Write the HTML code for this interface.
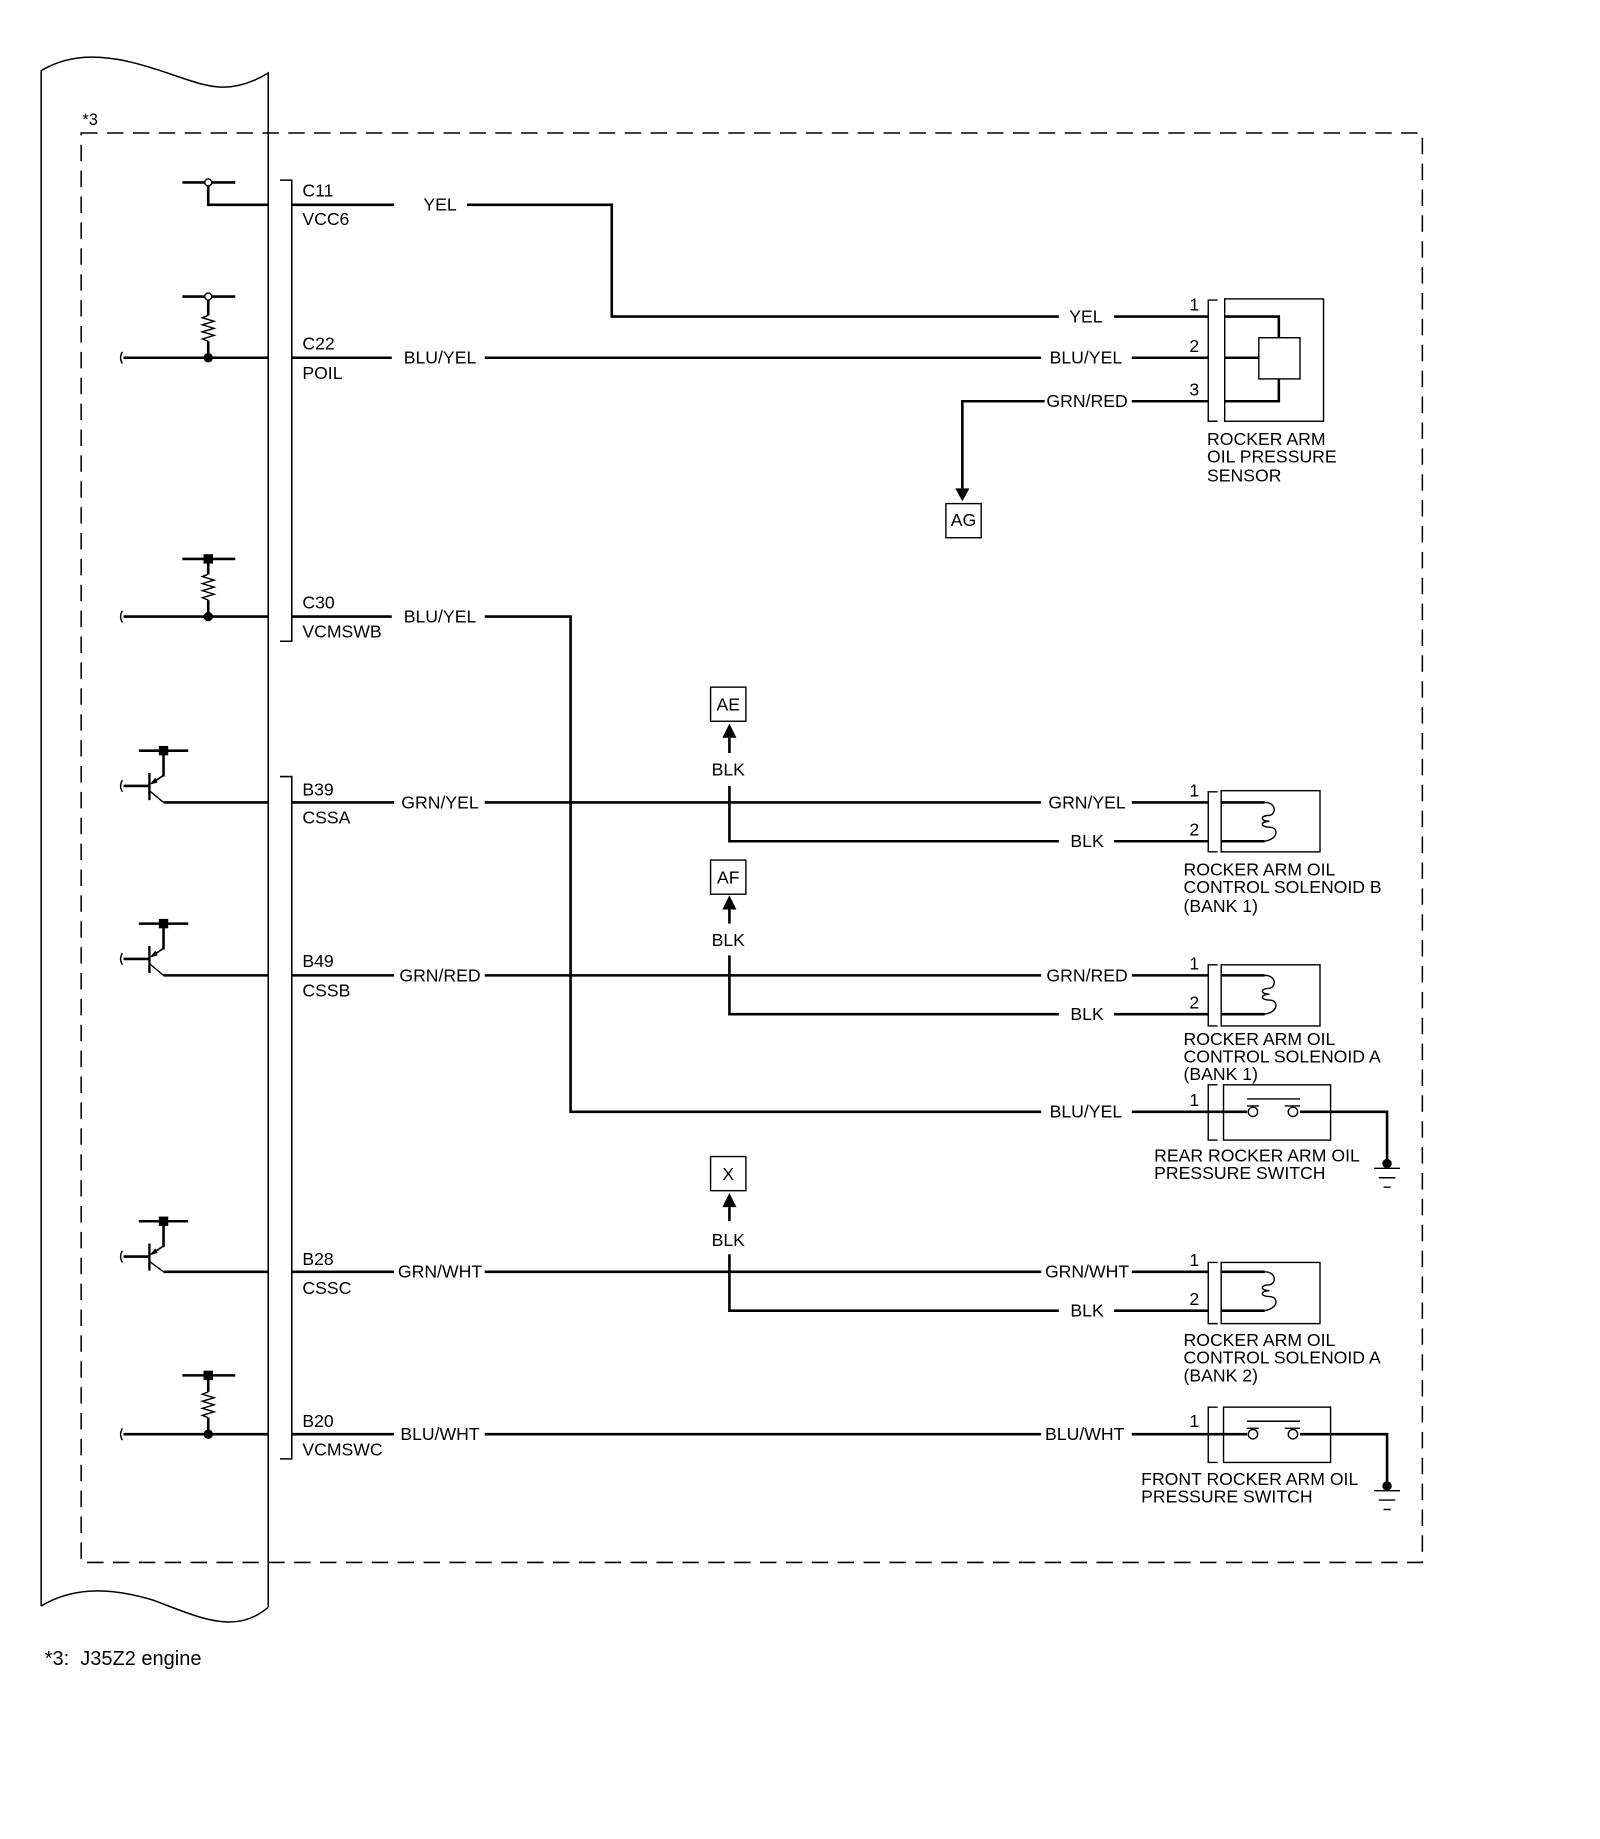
<!DOCTYPE html>
<html><head><meta charset="utf-8"><style>
html,body{margin:0;padding:0;background:#fff;}
svg{display:block;}
text{font-family:"Liberation Sans",Arial,sans-serif;font-size:15px;fill:#000;}
</style></head><body>
<svg width="1600" height="1839" viewBox="0 0 1360 1563" xmlns="http://www.w3.org/2000/svg">
<rect width="1360" height="1563" fill="#fff"/>
<g fill="none" stroke="#000" stroke-width="1.3">
<path d="M35,1365 L35,60 C60,45 90,45 130,58 C170,70 190,85 228,62 L228,1366"/>
<path d="M35,1365 C60,1350 90,1348 130,1360 C170,1375 200,1390 228,1366"/>
<rect x="69" y="113" width="1140" height="1215" stroke-dasharray="14,8"/>
<path d="M238,153 L248,153 L248,545 L238,545"/>
<path d="M238,660 L248,660 L248,1240 L238,1240"/>
</g>
<text x="70" y="106" style="font-size:14px">*3</text>
<g fill="none" stroke="#000" stroke-width="2.2">
<path d="M155,155 L200,155 M177,158 L177,174 L228,174"/>
<path d="M155,252 L200,252 M177,255 L177,268 M177,290 L177,304 M105,304 L228,304"/>
<path d="M155,475 L200,475 M177,478 L177,488 M177,510 L177,524 M105,524 L228,524"/>
<path d="M118,638 L160,638 M139,638 L139,660 M105,668 L127,668 M139,682 L228,682"/>
<path d="M118,785 L160,785 M139,785 L139,807 M105,815 L127,815 M139,829 L228,829"/>
<path d="M118,1038 L160,1038 M139,1038 L139,1060 M105,1068 L127,1068 M139,1081 L228,1081"/>
<path d="M155,1169 L200,1169 M177,1172 L177,1183 M177,1205 L177,1219 M105,1219 L228,1219"/>
</g>
<g fill="none" stroke="#000" stroke-width="1.2">
<circle cx="177" cy="155" r="3" fill="#fff"/>
<circle cx="177" cy="252" r="3" fill="#fff"/>
<path d="M177,268 l-5,2 l10,3 l-10,3 l10,3 l-10,3 l10,3 l-10,3 l5,2"/>
<path d="M177,488 l-5,2 l10,3 l-10,3 l10,3 l-10,3 l10,3 l-10,3 l5,2"/>
<path d="M177,1183 l-5,2 l10,3 l-10,3 l10,3 l-10,3 l10,3 l-10,3 l5,2"/>
<path d="M104,299 q-3,5 0,10 M104,519 q-3,5 0,10 M104,663 q-3,5 0,10 M104,810 q-3,5 0,10 M104,1063 q-3,5 0,10 M104,1214 q-3,5 0,10"/>
<path d="M127,672 L139,682 M127,819 L139,829 M127,1072 L139,1081"/>
</g>
<g fill="#000" stroke="#000" stroke-width="2">
<circle cx="177" cy="304" r="3"/><circle cx="177" cy="524" r="3"/><circle cx="177" cy="1219" r="3"/>
<rect x="174" y="472" width="6" height="6"/><rect x="174" y="1166" width="6" height="6"/>
<rect x="136" y="635" width="6" height="6"/><rect x="136" y="782" width="6" height="6"/><rect x="136" y="1035" width="6" height="6"/>
<path d="M127,657 L127,680 M127,804 L127,827 M127,1057 L127,1080"/>
<path d="M139,659 L130,665 M139,806 L130,812 M139,1059 L130,1065" stroke-width="1.5"/>
</g>
<g fill="#000"><path d="M127,667 l5,-6 l2,4z M127,814 l5,-6 l2,4z M127,1067 l5,-6 l2,4z"/></g>
<g>
<text x="257" y="167">C11</text><text x="257" y="191">VCC6</text>
<text x="257" y="297">C22</text><text x="257" y="322">POIL</text>
<text x="257" y="517">C30</text><text x="257" y="542">VCMSWB</text>
<text x="257" y="676">B39</text><text x="257" y="700">CSSA</text>
<text x="257" y="822">B49</text><text x="257" y="847">CSSB</text>
<text x="257" y="1075">B28</text><text x="257" y="1100">CSSC</text>
<text x="257" y="1213">B20</text><text x="257" y="1237">VCMSWC</text>
</g>
<g fill="none" stroke="#000" stroke-width="2.2">
<path d="M248,174 L335,174 M397,174 L520,174 L520,269 L900,269 M947,269 L1027,269"/>
<path d="M248,304 L333,304 M412,304 L885,304 M962,304 L1027,304"/>
<path d="M962,341 L1027,341 M888,341 L818,341 L818,415"/>
<path d="M248,524 L333,524 M412,524 L485,524 L485,945 L885,945 M962,945 L1027,945"/>
<path d="M248,682 L335,682 M412,682 L885,682 M962,682 L1027,682"/>
<path d="M620,640 L620,627 M620,668 L620,715 L900,715 M947,715 L1027,715"/>
<path d="M248,829 L335,829 M412,829 L885,829 M962,829 L1027,829"/>
<path d="M620,785 L620,773 M620,812 L620,862 L900,862 M947,862 L1027,862"/>
<path d="M248,1081 L335,1081 M412,1081 L885,1081 M962,1081 L1027,1081"/>
<path d="M620,1038 L620,1026 M620,1066 L620,1114 L900,1114 M947,1114 L1027,1114"/>
<path d="M248,1219 L335,1219 M412,1219 L885,1219 M962,1219 L1027,1219"/>
<path d="M1041,269 L1087,269 L1087,287 M1041,304 L1070,304 M1087,322 L1087,341 L1041,341"/>
<path d="M1038,682 L1075,682 M1038,715 L1075,715 M1038,829 L1075,829 M1038,862 L1075,862 M1038,1081 L1075,1081 M1038,1114 L1075,1114"/>
<path d="M1027,945 L1060,945 M1105,945 L1179,945 L1179,988 M1027,1219 L1060,1219 M1105,1219 L1179,1219 L1179,1262"/>
</g>
<g fill="#000">
<path d="M812,415 L824,415 L818,426z"/>
<path d="M614,627 L626,627 L620,615z M614,773 L626,773 L620,761z M614,1026 L626,1026 L620,1014z"/>
<circle cx="1179" cy="989" r="4"/><circle cx="1179" cy="1263" r="4"/>
</g>
<g fill="none" stroke="#000" stroke-width="1.2">
<path d="M1035,255 L1027,255 L1027,358 L1035,358"/>
<rect x="1041" y="254" width="84" height="104"/>
<rect x="1070" y="287" width="35" height="35"/>
<path d="M1035,673 L1027,673 L1027,724 L1035,724"/><rect x="1038" y="672" width="84" height="52"/>
<path d="M1035,820 L1027,820 L1027,872 L1035,872"/><rect x="1038" y="820" width="84" height="52"/>
<path d="M1035,1073 L1027,1073 L1027,1125 L1035,1125"/><rect x="1038" y="1073" width="84" height="52"/>
<path d="M1075,682 c10,0 10,10 4,11 c-8,0 -8,5 0,5 c-8,0 -8,5 0,5 c8,0 8,10 -4,12"/>
<path d="M1075,829 c10,0 10,10 4,11 c-8,0 -8,5 0,5 c-8,0 -8,5 0,5 c8,0 8,10 -4,12"/>
<path d="M1075,1081 c10,0 10,10 4,11 c-8,0 -8,5 0,5 c-8,0 -8,5 0,5 c8,0 8,10 -4,12"/>
<path d="M1035,922 L1027,922 L1027,969 L1035,969"/><rect x="1040" y="922" width="91" height="47"/>
<path d="M1060,934 L1105,934 M1060,940 L1070,940 M1092,940 L1105,940"/>
<circle cx="1065" cy="945" r="4"/><circle cx="1099" cy="945" r="4"/>
<path d="M1035,1196 L1027,1196 L1027,1243 L1035,1243"/><rect x="1040" y="1196" width="91" height="47"/>
<path d="M1060,1208 L1105,1208 M1060,1214 L1070,1214 M1092,1214 L1105,1214"/>
<circle cx="1065" cy="1219" r="4"/><circle cx="1099" cy="1219" r="4"/>
<path d="M1168,993 L1190,993 M1172,1001 L1186,1001 M1176,1009 L1182,1009"/>
<path d="M1168,1267 L1190,1267 M1172,1275 L1186,1275 M1176,1283 L1182,1283"/>
<rect x="804" y="428" width="30" height="29"/>
<rect x="604" y="584" width="30" height="29"/>
<rect x="604" y="731" width="30" height="29"/>
<rect x="604" y="983" width="30" height="29"/>
</g>
<g text-anchor="middle">
<text x="374" y="179">YEL</text><text x="923" y="274">YEL</text>
<text x="374" y="309">BLU/YEL</text><text x="923" y="309">BLU/YEL</text>
<text x="924" y="346">GRN/RED</text>
<text x="374" y="529">BLU/YEL</text><text x="923" y="950">BLU/YEL</text>
<text x="374" y="687">GRN/YEL</text><text x="924" y="687">GRN/YEL</text><text x="924" y="720">BLK</text>
<text x="374" y="834">GRN/RED</text><text x="924" y="834">GRN/RED</text><text x="924" y="867">BLK</text>
<text x="374" y="1086">GRN/WHT</text><text x="924" y="1086">GRN/WHT</text><text x="924" y="1119">BLK</text>
<text x="374" y="1224">BLU/WHT</text><text x="922" y="1224">BLU/WHT</text>
<text x="619" y="659">BLK</text><text x="619" y="804">BLK</text><text x="619" y="1059">BLK</text>
<text x="819" y="447">AG</text><text x="619" y="604">AE</text><text x="619" y="751">AF</text><text x="619" y="1003">X</text>
</g>
<g>
<text x="1011" y="264">1</text><text x="1011" y="299">2</text><text x="1011" y="336">3</text>
<text x="1011" y="677">1</text><text x="1011" y="710">2</text>
<text x="1011" y="824">1</text><text x="1011" y="857">2</text>
<text x="1011" y="940">1</text>
<text x="1011" y="1076">1</text><text x="1011" y="1109">2</text>
<text x="1011" y="1213">1</text>
</g>
<g>
<text x="1026" y="378">ROCKER ARM</text><text x="1026" y="393">OIL PRESSURE</text><text x="1026" y="409">SENSOR</text>
<text x="1006" y="744">ROCKER ARM OIL</text><text x="1006" y="759">CONTROL SOLENOID B</text><text x="1006" y="775">(BANK 1)</text>
<text x="1006" y="888">ROCKER ARM OIL</text><text x="1006" y="903">CONTROL SOLENOID A</text><text x="1006" y="918">(BANK 1)</text>
<text x="981" y="987">REAR ROCKER ARM OIL</text><text x="981" y="1002">PRESSURE SWITCH</text>
<text x="1006" y="1144">ROCKER ARM OIL</text><text x="1006" y="1159">CONTROL SOLENOID A</text><text x="1006" y="1174">(BANK 2)</text>
<text x="970" y="1262">FRONT ROCKER ARM OIL</text><text x="970" y="1277">PRESSURE SWITCH</text>
</g>
<text x="38" y="1415" style="font-size:17px" xml:space="preserve">*3:  J35Z2 engine</text>
</svg>
</body></html>
